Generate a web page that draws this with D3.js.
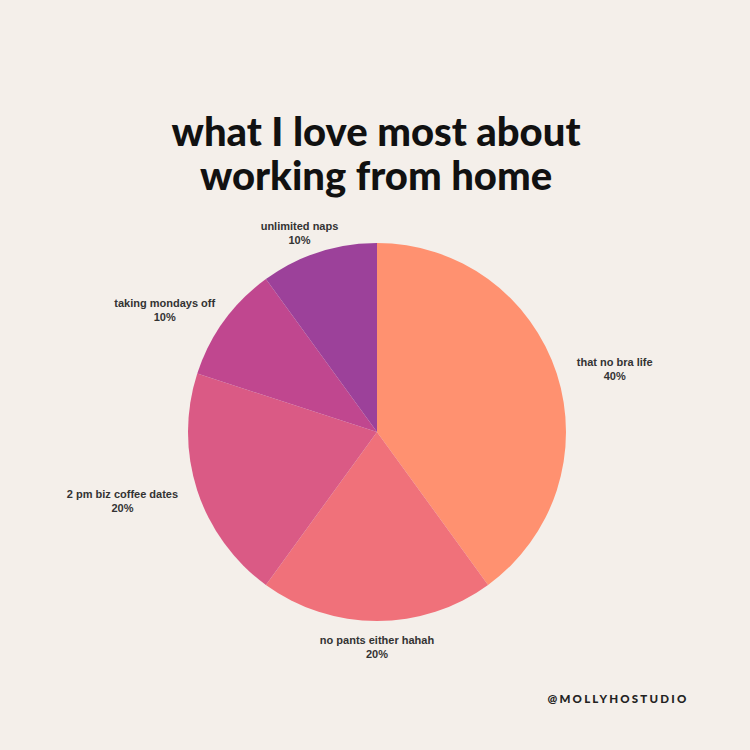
<!DOCTYPE html>
<html><head><meta charset="utf-8">
<script src="https://cdn.jsdelivr.net/npm/d3@7"></script>
<style>html,body{margin:0;padding:0;background:#F4EFEA;}</style>
</head><body>
<svg id="c" width="750" height="750"></svg>
<script>
const titleLines = ["what I love most about", "working from home"];
const categories = ["that no bra life", "no pants either hahah", "2 pm biz coffee dates", "taking mondays off", "unlimited naps"];
const values = [40, 20, 20, 10, 10];
const colors = ["#FF9170", "#F0717A", "#DA5A85", "#C0478F", "#9C419A"];
const credit = "@MOLLYHOSTUDIO";

const svg = d3.select("#c");
svg.append("rect").attr("width", 750).attr("height", 750).attr("fill", "#F4EFEA");

const cx = 377, cy = 432, R = 189;
const data = categories.map((c, i) => ({cat: c, value: values[i], color: colors[i]}));
const pie = d3.pie().value(d => d.value).sort(null);
const arc = d3.arc().innerRadius(0).outerRadius(R);
const arcs = pie(data);
const total = d3.sum(values);

const g = svg.append("g").attr("transform", `translate(${cx},${cy})`);
g.selectAll("path").data(arcs).join("path")
  .attr("d", arc).attr("fill", d => d.data.color);

const r0 = 212;
arcs.forEach(a => {
  const mid = (a.startAngle + a.endAngle) / 2;
  const s = Math.sin(mid), c = Math.cos(mid);
  const t = g.append("text").attr("text-anchor", "middle")
    .attr("font-family", "Liberation Sans, Arial, sans-serif")
    .attr("font-weight", "bold").attr("font-size", 11).attr("fill", "#333");
  const t1 = t.append("tspan").attr("x", 0).attr("dy", 0).text(a.data.cat);
  const t2 = t.append("tspan").attr("x", 0).attr("dy", 14).text(Math.round(a.data.value / total * 100) + "%");
  const w = Math.max(t1.node().getComputedTextLength(), t2.node().getComputedTextLength());
  const x = s * (r0 + w / 2);
  const y = -c * r0;
  t.attr("transform", `translate(${x},${y})`);
});

titleLines.forEach((line, i) => {
  svg.append("text").attr("x", 376).attr("y", 146 + i * 44).attr("text-anchor", "middle")
    .attr("font-family", "Lato, sans-serif").attr("font-weight", 900)
    .attr("font-size", 40).attr("fill", "#111").text(line);
});

svg.append("text").attr("x", 618).attr("y", 703).attr("text-anchor", "middle")
  .attr("font-family", "Lato, sans-serif").attr("font-weight", 900)
  .attr("font-size", 11.5).attr("letter-spacing", 2.2).attr("fill", "#222")
  .text(credit);
</script>
</body></html>
